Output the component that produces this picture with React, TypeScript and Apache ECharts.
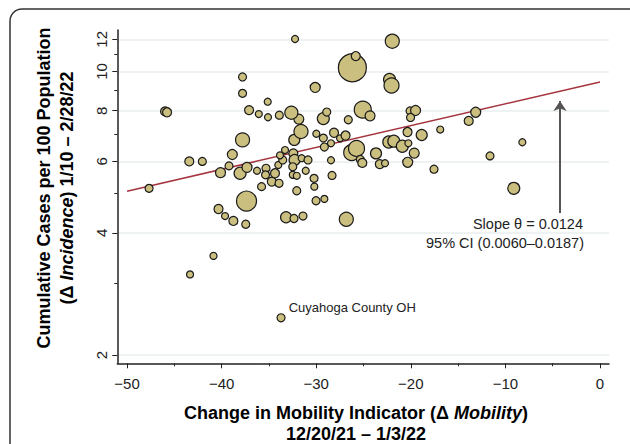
import React, { useEffect, useRef } from 'react';
import * as echarts from 'echarts';

// Change in mobility indicator (x), cumulative cases per 100 (y), bubble size (population weight)
const mobility = [
  -47.67, -45.98, -45.77, -43.42, -42.04, -43.34, -40.86, -40.33, -39.64, -38.76,
  -37.45, -37.37, -37.79, -38.87, -39.22, -40.12, -38.05, -37.32, -36.26, -35.31,
  -35.36, -35.78, -34.70, -33.93, -34.36, -34.01, -33.54, -33.83, -33.30, -32.42,
  -32.29, -31.54, -30.87, -32.32, -32.48, -32.48, -32.06, -31.11, -32.06, -30.23,
  -30.20, -30.02, -29.14, -33.19, -32.35, -31.40, -26.82, -33.72, -28.44, -28.33,
  -31.61, -29.99, -29.25, -28.12, -27.48, -26.90, -28.44, -29.14, -26.25, -25.74,
  -25.34, -25.13, -23.68, -23.28, -22.73, -22.33, -21.80, -20.90, -20.26, -19.64,
  -20.33, -20.35, -18.85, -16.89, -17.55, -11.63, -8.21, -9.12, -13.88, -13.14,
  -20.08, -19.50, -20.03, -25.08, -24.31, -26.61, -29.25, -28.89, -31.84, -32.63,
  -33.90, -35.10, -35.13, -36.07, -37.10, -37.79, -37.79, -32.24, -30.11, -26.18,
  -25.82, -21.96, -22.25, -22.04,
];
const incidence = [
  5.15, 7.97, 7.93, 6.00, 6.00, 3.16, 3.51, 4.58, 4.40, 4.28,
  4.20, 4.79, 6.78, 6.24, 5.85, 5.63, 5.61, 5.80, 5.69, 5.77,
  5.56, 5.20, 5.35, 5.30, 5.61, 5.88, 6.05, 6.21, 6.40, 6.28,
  6.05, 6.11, 6.05, 6.78, 5.82, 5.56, 5.53, 5.69, 5.08, 5.45,
  5.20, 4.80, 4.85, 4.37, 4.34, 4.40, 4.32, 2.47, 6.04, 5.54,
  7.11, 7.02, 6.85, 7.06, 6.84, 6.95, 6.65, 6.51, 6.31, 6.46,
  6.07, 5.95, 6.28, 5.91, 5.94, 6.70, 6.73, 6.54, 6.65, 6.29,
  5.97, 7.09, 6.97, 7.19, 5.74, 6.19, 6.69, 5.15, 7.55, 7.93,
  7.99, 8.01, 7.70, 8.05, 7.77, 7.60, 7.65, 7.94, 7.63, 7.91,
  7.80, 7.71, 8.42, 7.85, 8.03, 9.69, 8.83, 12.02, 9.13, 10.21,
  10.91, 11.87, 9.55, 9.23,
];
const bubbleSize = [
  8, 9, 9, 9, 8, 7, 7, 9, 7, 9,
  8, 20, 14, 10, 8, 10, 12, 10, 7, 8,
  8, 8, 9, 8, 9, 7, 8, 7, 7, 9,
  11, 7, 8, 11, 8, 7, 7, 7, 8, 8,
  7, 8, 7, 11, 8, 8, 14, 8, 7, 8,
  14, 7, 8, 9, 7, 9, 7, 8, 16, 16,
  8, 9, 11, 9, 7, 12, 12, 12, 7, 10,
  10, 9, 11, 7, 8, 8, 7, 12, 9, 10,
  8, 10, 8, 17, 10, 8, 12, 8, 10, 13,
  8, 7, 7, 7, 9, 8, 8, 7, 10, 28,
  9, 14, 12, 15,
];
const labelledIndex = 47;
const labelledName = 'Cuyahoga County OH';

const yMajorTicks = [2, 4, 6, 8, 10, 12];
const yMinorTicks = [3, 5, 7, 9, 11];
const xMajorTicks = [-50, -40, -30, -20, -10, 0];
const xMinorTicks = [-45, -35, -25, -15, -5];

const slope = 0.0124;
const interceptLn = 2.243;
const fitRange = [-50, 0];
const arrowX = -4.23;
const arrowFrom = 4.48;
const arrowTo = 8.46;
const slopeText = 'Slope \u03B8 = 0.0124';
const ciText = '95% CI (0.0060\u20130.0187)';

export default function App() {
  const ref = useRef<HTMLDivElement>(null);
  useEffect(() => {
    const chart = echarts.init(ref.current as HTMLDivElement, null, { renderer: 'svg' });
    const font = '"Liberation Sans", Arial, Helvetica, sans-serif';
    const ln = Math.log;
    const xMin = -51.03, xMax = 0.95;
    const yMin = 0.646, yMax = 2.5376;
    const fmtX = (v: number) => (v < 0 ? '\u2212' + Math.abs(v) : String(v));
    const pts = mobility.map((x, i) => {
      const item: any = { value: [x, ln(incidence[i])], symbolSize: bubbleSize[i] };
      if (i === labelledIndex) {
        item.label = {
          show: true, formatter: labelledName, position: 'right', distance: 3, offset: [0, -10],
          fontSize: 13, fontFamily: font, color: '#222',
        };
      }
      return item;
    });
    const titleRich = {
      b: { fontWeight: 'bold', fontSize: 18, fontFamily: font, color: '#1a1a1a' },
      bi: { fontWeight: 'bold', fontStyle: 'italic', fontSize: 18, fontFamily: font, color: '#1a1a1a' },
    };
    chart.setOption({
      animation: false,
      grid: { left: 117.3, right: 21, top: 30, bottom: 80.7 },
      xAxis: [
        {
          type: 'value', min: xMin, max: xMax,
          axisLine: { show: true, onZero: false, lineStyle: { color: '#222', width: 1.5 } },
          axisTick: { show: true, customValues: xMajorTicks, length: 5, lineStyle: { color: '#222', width: 1 } },
          axisLabel: { customValues: xMajorTicks, formatter: fmtX, fontSize: 15, color: '#222', fontFamily: font, margin: 13 },
          splitLine: { show: false },
        },
        {
          type: 'value', min: xMin, max: xMax, position: 'bottom',
          axisLine: { show: false, onZero: false },
          axisTick: { show: true, customValues: xMinorTicks, length: 3, lineStyle: { color: '#222', width: 1 } },
          axisLabel: { show: false },
          splitLine: { show: false },
        },
      ],
      yAxis: [
        {
          type: 'value', min: yMin, max: yMax,
          axisLine: { show: true, onZero: false, lineStyle: { color: '#222', width: 1.5 } },
          axisTick: { show: true, customValues: yMajorTicks.map(ln), length: 5, lineStyle: { color: '#222', width: 1 } },
          axisLabel: {
            customValues: yMajorTicks.map(ln), rotate: 90,
            formatter: (v: number) => String(Math.round(Math.exp(v))),
            fontSize: 15, color: '#222', fontFamily: font, margin: 8,
          },
          splitLine: { show: true, lineStyle: { color: '#e8eeee', width: 1.5 } },
        },
        {
          type: 'value', min: yMin, max: yMax, position: 'left',
          axisLine: { show: false, onZero: false },
          axisTick: { show: true, customValues: yMinorTicks.map(ln), length: 3, lineStyle: { color: '#222', width: 1 } },
          axisLabel: { show: false },
          splitLine: { show: false },
        },
      ],
      series: [
        {
          type: 'line', z: 1, silent: true, symbol: 'none',
          data: fitRange.map((x) => [x, interceptLn + slope * x]),
          lineStyle: { color: '#a5343f', width: 1.5 },
          markLine: {
            silent: true, symbol: ['none', 'arrow'], symbolSize: 10,
            label: { show: false },
            lineStyle: { color: '#555', width: 2, type: 'solid' },
            data: [[{ coord: [arrowX, ln(arrowFrom)] }, { coord: [arrowX, ln(arrowTo)] }]],
          },
        },
        {
          type: 'scatter', z: 2, silent: true,
          data: pts,
          itemStyle: { color: '#cbbf7f', borderColor: '#1a1a1a', borderWidth: 1.2, opacity: 1 },
        },
      ],
      graphic: [
        {
          type: 'rect', silent: true, z: -10,
          shape: { x: 10, y: 9, width: 640, height: 480, r: 12 },
          style: { fill: 'none', stroke: '#333', lineWidth: 1.5 },
        },
        {
          type: 'text', x: 55.5, y: 188, rotation: Math.PI / 2,
          style: {
            text: '{b|Cumulative Cases per 100 Population}\n{b|(\u0394 }{bi|Incidence}{b|) 1/10 \u2013 2/28/22}',
            rich: { b: { ...titleRich.b, lineHeight: 23 }, bi: { ...titleRich.bi, lineHeight: 23 } },
            align: 'center', verticalAlign: 'middle',
          },
        },
        {
          type: 'text', x: 356, y: 423.5,
          style: {
            text: '{b|Change in Mobility Indicator (\u0394 }{bi|Mobility}{b|)}\n{b|12/20/21 \u2013 1/3/22}',
            rich: { b: { ...titleRich.b, lineHeight: 21 }, bi: { ...titleRich.bi, lineHeight: 21 } },
            align: 'center', verticalAlign: 'middle',
          },
        },
        {
          type: 'text', x: 583, y: 224,
          style: { text: slopeText, fontSize: 14.5, fontFamily: font, fill: '#222', align: 'right', verticalAlign: 'middle' },
        },
        {
          type: 'text', x: 584, y: 242.5,
          style: { text: ciText, fontSize: 14.5, fontFamily: font, fill: '#222', align: 'right', verticalAlign: 'middle' },
        },
      ],
    });
    return () => chart.dispose();
  }, []);
  return <div ref={ref} style={{ position: 'absolute', left: 0, top: 0, width: 630, height: 444 }} />;
}
